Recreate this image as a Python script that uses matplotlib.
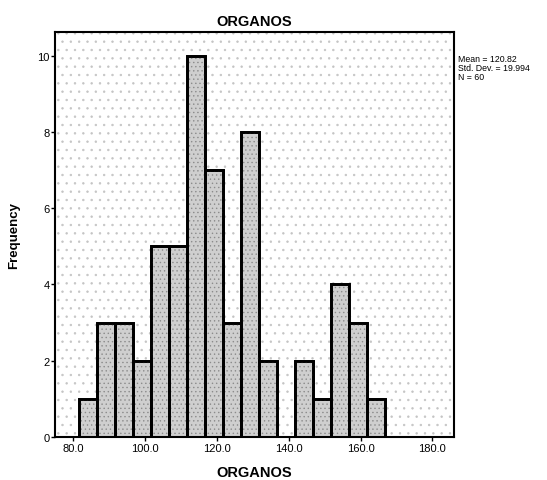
import matplotlib
matplotlib.use("Agg")
import matplotlib.pyplot as plt
import numpy as np
from matplotlib.patches import Rectangle

bin_start = 81.75
bin_width = 5.0
counts = [1, 3, 3, 2, 5, 5, 10, 7, 3, 8, 2, 0, 2, 1, 4, 3, 1]
xticks = [80, 100, 120, 140, 160, 180]
xtick_labels = ["80.0", "100.0", "120.0", "140.0", "160.0", "180.0"]
yticks = [0, 2, 4, 6, 8, 10]
stats_text = "Mean = 120.82\nStd. Dev. = 19.994\nN = 60"
title = "ORGANOS"
xlabel = "ORGANOS"
ylabel = "Frequency"

plt.rcParams['font.family'] = ['Liberation Sans', 'DejaVu Sans']
plt.rcParams['hatch.linewidth'] = 0.5

fig = plt.figure(figsize=(5.47, 4.81), dpi=100)
ax = fig.add_axes([0.1005, 0.0894, 0.7295, 0.842])

# sparse, fine dotted background
ax.set_facecolor('white')
bg = Rectangle((0, 0), 1, 1, transform=ax.transAxes, facecolor='white',
               edgecolor='#c4c4c4', hatch='..', linewidth=0, zorder=0)
ax.add_patch(bg)

edges = bin_start + bin_width * np.arange(len(counts))
bars = ax.bar(edges, counts, width=bin_width, align='edge', facecolor='#cfcfcf',
              edgecolor='black', linewidth=2.0, zorder=2)
for b in bars:
    hb = Rectangle(b.get_xy(), b.get_width(), b.get_height(), facecolor='none',
                   edgecolor='#8c8c8c', hatch='....', linewidth=0, zorder=2.5)
    ax.add_patch(hb)
    ol = Rectangle(b.get_xy(), b.get_width(), b.get_height(), facecolor='none',
                   edgecolor='black', linewidth=2.0, zorder=3)
    ax.add_patch(ol)

ax.set_xlim(75, 186)
ax.set_ylim(0, 10.62)
ax.set_xticks(xticks)
ax.set_xticklabels(xtick_labels, fontsize=8)
ax.set_yticks(yticks)
ax.set_yticklabels([str(v) for v in yticks], fontsize=8)
ax.tick_params(direction='out', length=3, width=1, pad=1)
for s in ax.spines.values():
    s.set_linewidth(1.5)
    s.set_zorder(4)

ax.set_title(title, fontsize=10.5, fontweight='bold', pad=5)
ax.set_xlabel(xlabel, fontsize=10.5, fontweight='bold', labelpad=9)
ax.set_ylabel(ylabel, fontsize=9.5, fontweight='bold', labelpad=12)

fig.text(0.838, 0.885, stats_text, fontsize=6.3, va='top', ha='left',
         linespacing=0.95)

fig.savefig("out.png", dpi=100)
